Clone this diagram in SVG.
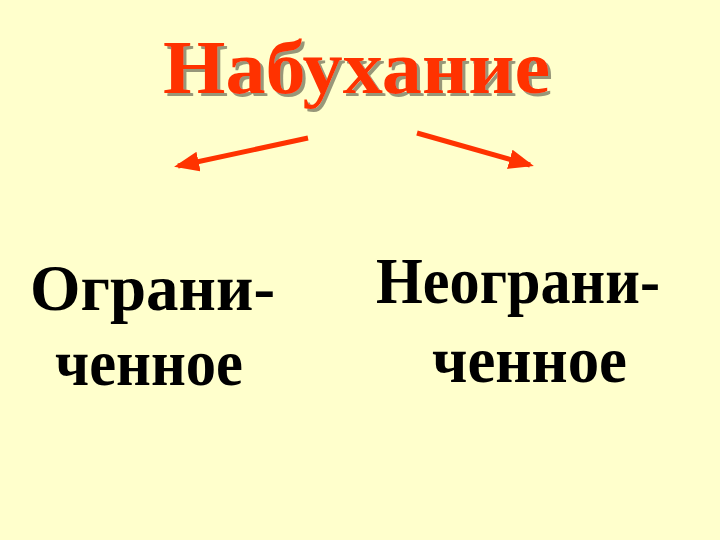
<svg xmlns="http://www.w3.org/2000/svg" width="720" height="540" viewBox="0 0 720 540">
<style>
.title{font-family:"Liberation Serif","Times New Roman",serif;font-weight:bold;font-size:76px;fill:#FF3300;filter:url(#sh)}
.lbl{font-family:"Liberation Serif","Times New Roman",serif;font-weight:bold;font-size:66px;fill:#000}
.conn{stroke:#FF3300;stroke-width:5;fill:none;marker-end:url(#ah)}
</style>
<defs>
<filter id="sh" x="-5%" y="-20%" width="115%" height="150%">
<feDropShadow dx="3" dy="3" stdDeviation="0.6" flood-color="#8C8C70" flood-opacity="0.9"/>
</filter>
<marker id="ah" markerWidth="5" markerHeight="4" refX="4.2" refY="2" orient="auto" markerUnits="strokeWidth">
<path d="M0,0 L5,2 L0,4 Z" fill="#FF3300"/>
</marker>
</defs>
<rect width="720" height="540" fill="#FFFFCC"/>
<g id="title">
<text class="title" x="163" y="93" textLength="387" lengthAdjust="spacingAndGlyphs">Набухание</text>
</g>
<g id="connectors">
<line class="conn" x1="308" y1="138" x2="178" y2="166"/>
<line class="conn" x1="417" y1="133" x2="530" y2="165"/>
</g>
<g id="left">
<text class="lbl" x="30" y="310" textLength="245" lengthAdjust="spacingAndGlyphs">Ограни-</text>
<text class="lbl" x="55" y="385" textLength="188" lengthAdjust="spacingAndGlyphs">ченное</text>
</g>
<g id="right">
<text class="lbl" x="376" y="303" textLength="284" lengthAdjust="spacingAndGlyphs">Неограни-</text>
<text class="lbl" x="432" y="382" textLength="195" lengthAdjust="spacingAndGlyphs">ченное</text>
</g>
</svg>
